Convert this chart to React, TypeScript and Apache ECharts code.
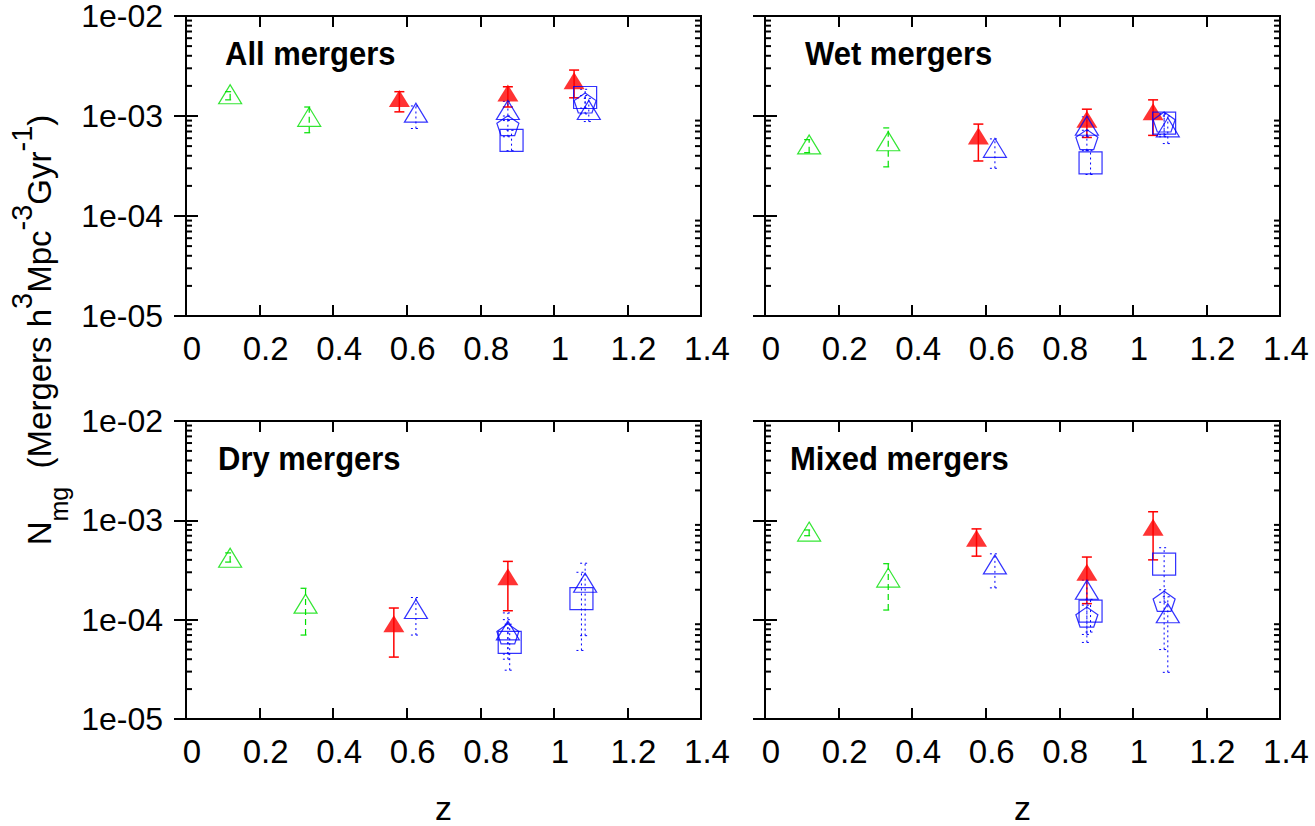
import React, { useEffect, useRef } from 'react';
import * as echarts from 'echarts';

// ---------------- data ----------------
const panelTitles = ['All mergers', 'Wet mergers', 'Dry mergers', 'Mixed mergers'];
const xAxisName = 'z';
const yTickLabels: Record<string, string> = { '-5': '1e-05', '-4': '1e-04', '-3': '1e-03', '-2': '1e-02' };
const yMinorTicks = [
  2e-5, 3e-5, 4e-5, 5e-5, 6e-5, 7e-5, 8e-5, 9e-5,
  2e-4, 3e-4, 4e-4, 5e-4, 6e-4, 7e-4, 8e-4, 9e-4,
  2e-3, 3e-3, 4e-3, 5e-3, 6e-3, 7e-3, 8e-3, 9e-3,
];

// rows: [z, N_mg, lower error end, upper error end]
const allGreen = [[0.12, 1.65e-3, 1.45e-3, 1.75e-3], [0.335, 0.98e-3, 0.68e-3, 1.23e-3]];
const allRed = [[0.58, 1.5e-3, 1.1e-3, 1.75e-3], [0.875, 1.7e-3, 1.23e-3, 1.96e-3], [1.055, 2.25e-3, 1.52e-3, 2.88e-3]];
const allBlueTri = [[0.625, 1.08e-3, 0.75e-3, 1.26e-3], [0.875, 1.15e-3, 0.9e-3, 1.4e-3], [1.095, 1.15e-3, 0.88e-3, 1.5e-3]];
const allBluePent = [[0.875, 0.8e-3, 0.62e-3, 1.0e-3], [1.085, 1.35e-3, 1.05e-3, 1.6e-3]];
const allBlueSq = [[0.885, 0.57e-3, 0.45e-3, 0.72e-3], [1.085, 1.53e-3, 1.2e-3, 1.85e-3]];

const wetGreen = [[0.12, 0.52e-3, 0.43e-3, 0.58e-3], [0.335, 0.56e-3, 0.31e-3, 0.76e-3]];
const wetRed = [[0.58, 0.63e-3, 0.355e-3, 0.83e-3], [0.875, 0.93e-3, 0.61e-3, 1.17e-3], [1.055, 1.1e-3, 0.64e-3, 1.45e-3]];
const wetBlueTri = [[0.625, 0.48e-3, 0.3e-3, 0.59e-3], [0.875, 0.8e-3, 0.62e-3, 0.98e-3], [1.095, 0.77e-3, 0.53e-3, 1.0e-3]];
const wetBluePent = [[0.875, 0.58e-3, 0.45e-3, 0.72e-3], [1.085, 0.87e-3, 0.65e-3, 1.05e-3]];
const wetBlueSq = [[0.885, 0.34e-3, 0.26e-3, 0.45e-3], [1.085, 0.85e-3, 0.62e-3, 1.05e-3]];

const dryGreen = [[0.12, 0.42e-3, 0.38e-3, 0.47e-3], [0.325, 0.145e-3, 0.07e-3, 0.207e-3]];
const dryRed = [[0.565, 0.091e-3, 0.042e-3, 0.131e-3], [0.875, 0.27e-3, 0.123e-3, 0.386e-3]];
const dryBlueTri = [[0.625, 0.128e-3, 0.07e-3, 0.167e-3], [0.875, 0.078e-3, 0.045e-3, 0.117e-3], [1.085, 0.235e-3, 0.069e-3, 0.37e-3]];
const dryBluePent = [[0.875, 0.072e-3, 0.04e-3, 0.1e-3]];
const dryBlueSq = [[0.88, 0.059e-3, 0.031e-3, 0.09e-3], [1.075, 0.163e-3, 0.049e-3, 0.3e-3]];

const mixGreen = [[0.12, 0.77e-3, 0.7e-3, 0.8e-3], [0.335, 0.265e-3, 0.125e-3, 0.366e-3]];
const mixRed = [[0.575, 0.66e-3, 0.436e-3, 0.82e-3], [0.875, 0.3e-3, 0.145e-3, 0.427e-3], [1.055, 0.85e-3, 0.4e-3, 1.22e-3]];
const mixBlueTri = [[0.625, 0.36e-3, 0.209e-3, 0.46e-3], [0.875, 0.2e-3, 0.071e-3, 0.25e-3], [1.095, 0.116e-3, 0.0295e-3, 0.17e-3]];
const mixBluePent = [[0.875, 0.106e-3, 0.059e-3, 0.14e-3], [1.085, 0.153e-3, 0.05e-3, 0.2e-3]];
const mixBlueSq = [[0.885, 0.122e-3, 0.075e-3, 0.16e-3], [1.085, 0.363e-3, 0.15e-3, 0.53e-3]];

const panelData = [
  { green: allGreen, red: allRed, blueTri: allBlueTri, bluePent: allBluePent, blueSq: allBlueSq },
  { green: wetGreen, red: wetRed, blueTri: wetBlueTri, bluePent: wetBluePent, blueSq: wetBlueSq },
  { green: dryGreen, red: dryRed, blueTri: dryBlueTri, bluePent: dryBluePent, blueSq: dryBlueSq },
  { green: mixGreen, red: mixRed, blueTri: mixBlueTri, bluePent: mixBluePent, blueSq: mixBlueSq },
];

// ---------------- styles / layout ----------------
const FONT = '"Liberation Sans", Arial, Helvetica, sans-serif';
const PENT = 'path://M0,-1L0.9511,-0.309L0.5878,0.809L-0.5878,0.809L-0.9511,-0.309Z';
const markStyles: Record<string, any> = {
  green: { color: '#00e000', symbol: 'triangle', size: [23, 19], filled: false, dash: [6, 4], lw: 1.2 },
  red: { color: '#ff0000', symbol: 'triangle', size: [21, 17], filled: true, dash: null, lw: 1.5 },
  blueTri: { color: '#0000ff', symbol: 'triangle', size: [23, 19], filled: false, dash: [2, 3], lw: 1 },
  bluePent: { color: '#0000ff', symbol: PENT, size: [22, 20], filled: false, dash: [2, 3], lw: 1 },
  blueSq: { color: '#0000ff', symbol: 'rect', size: [23, 22], filled: false, dash: [2, 3], lw: 1 },
};
const grids = [
  { left: 186, top: 16, width: 515, height: 300 },
  { left: 765, top: 16, width: 515, height: 300 },
  { left: 186, top: 421, width: 515, height: 300 },
  { left: 765, top: 421, width: 515, height: 300 },
];
const titlePos = [
  [225, 53], [805, 53], [218, 458], [790, 458],
];

function buildOption() {
  const xAxis: any[] = [];
  const yAxis: any[] = [];
  const series: any[] = [];
  grids.forEach((g, gi) => {
    const bottomRow = gi >= 2;
    xAxis.push({
      type: 'value', gridIndex: gi, position: 'bottom', min: 0, max: 1.4, interval: 0.2,
      axisLine: { show: false }, splitLine: { show: false },
      axisTick: { show: true, inside: true, length: 11, lineStyle: { color: '#000', width: 2 } },
      axisLabel: { show: true, color: '#000', fontSize: 33, lineHeight: 30, fontFamily: FONT, margin: 32, verticalAlign: 'middle', padding: [0, 0, 0, 12] },
      name: bottomRow ? xAxisName : '', nameLocation: 'middle', nameGap: 72,
      nameTextStyle: { color: '#000', fontSize: 34, fontFamily: FONT },
    });
    xAxis.push({
      type: 'value', gridIndex: gi, position: 'top', min: 0, max: 1.4, interval: 0.2,
      axisLine: { show: false }, splitLine: { show: false }, axisLabel: { show: false },
      axisTick: { show: true, inside: true, length: 11, lineStyle: { color: '#000', width: 2 } },
    });
    const yBase = {
      type: 'log', logBase: 10, gridIndex: gi, min: 1e-5, max: 1e-2,
      axisLine: { show: false }, splitLine: { show: false },
      axisTick: { show: true, inside: true, length: 12, lineStyle: { color: '#000', width: 2 } },
    };
    yAxis.push({
      ...yBase, position: 'left',
      axisLabel: {
        show: gi % 2 === 0, color: '#000', fontSize: 32, lineHeight: 22, fontFamily: FONT, margin: 23,
        padding: [4, 0, 0, 0],
        formatter: (v: number) => yTickLabels[String(Math.round(Math.log10(v)))] ?? '',
      },
    });
    yAxis.push({ ...yBase, position: 'right', axisLabel: { show: false } });

    // minor ticks (2..9 per decade) on both sides
    series.push({
      type: 'custom', xAxisIndex: gi * 2, yAxisIndex: gi * 2, silent: true, z: 1,
      data: yMinorTicks.map((v) => [0, v]), encode: { x: 0, y: 1 },
      renderItem: (_p: any, api: any) => {
        const v = api.value(1);
        const l = api.coord([0, v]);
        const r = api.coord([1.4, v]);
        const st = { stroke: '#000', lineWidth: 2 };
        return {
          type: 'group', children: [
            { type: 'line', shape: { x1: l[0], y1: l[1], x2: l[0] + 6, y2: l[1] }, style: st },
            { type: 'line', shape: { x1: r[0] - 6, y1: r[1], x2: r[0], y2: r[1] }, style: st },
          ],
        };
      },
    });

    const pd: any = panelData[gi];
    ['green', 'red', 'blueTri', 'bluePent', 'blueSq'].forEach((key) => {
      const s = markStyles[key];
      const rows = pd[key];
      series.push({
        type: 'custom', xAxisIndex: gi * 2, yAxisIndex: gi * 2, silent: true, z: 2,
        data: rows, encode: { x: 0, y: 1 },
        renderItem: (_p: any, api: any) => {
          const x = api.value(0);
          const lo = api.coord([x, api.value(2)]);
          const hi = api.coord([x, api.value(3)]);
          const cw = 5;
          const st: any = { stroke: s.color, lineWidth: s.lw, fill: null };
          if (s.dash) st.lineDash = s.dash;
          return {
            type: 'group', children: [
              { type: 'line', shape: { x1: lo[0], y1: lo[1], x2: hi[0], y2: hi[1] }, style: st },
              { type: 'line', shape: { x1: lo[0] - cw, y1: lo[1], x2: lo[0] + cw, y2: lo[1] }, style: st },
              { type: 'line', shape: { x1: hi[0] - cw, y1: hi[1], x2: hi[0] + cw, y2: hi[1] }, style: st },
            ],
          };
        },
      });
      series.push({
        type: 'scatter', xAxisIndex: gi * 2, yAxisIndex: gi * 2, silent: true, z: 3,
        data: rows.map((r: number[]) => [r[0], r[1]]),
        symbol: s.symbol, symbolSize: s.size,
        itemStyle: s.filled
          ? { color: s.color, borderWidth: 0 }
          : { color: 'rgba(0,0,0,0)', borderColor: s.color, borderWidth: 1.2 },
        emphasis: { disabled: true },
      });
    });
  });

  const graphic: any[] = panelTitles.map((t, i) => ({
    type: 'text', x: titlePos[i][0], y: titlePos[i][1], scaleY: 1.1, silent: true,
    style: { text: t, fontSize: 31, fontWeight: 'bold', fontFamily: FONT, fill: '#000', align: 'left', verticalAlign: 'middle' },
  }));
  graphic.push({
    type: 'text', x: 39, y: 330, rotation: Math.PI / 2, silent: true,
    style: {
      text: '{n|N}{sub|mg}{n|  (Mergers h}{sup|3}{n|Mpc}{sup|-3}{n|Gyr}{sup|-1}{n|)}',
      align: 'center', verticalAlign: 'middle', fill: '#000', fontFamily: FONT,
      rich: {
        n: { fontSize: 33, lineHeight: 64, verticalAlign: 'middle', fontFamily: FONT, fill: '#000' },
        sup: { fontSize: 29, lineHeight: 25, verticalAlign: 'top', fontFamily: FONT, fill: '#000' },
        sub: { fontSize: 25, lineHeight: 36, verticalAlign: 'bottom', fontFamily: FONT, fill: '#000' },
      },
    },
  });

  return {
    animation: false,
    backgroundColor: '#fff',
    grid: grids.map((g) => ({ ...g, show: true, borderColor: '#000', borderWidth: 2, backgroundColor: 'transparent' })),
    xAxis, yAxis, series, graphic,
  };
}

export default function App() {
  const ref = useRef<HTMLDivElement>(null);
  useEffect(() => {
    if (!ref.current) return;
    const chart = echarts.init(ref.current, undefined, { renderer: 'svg' });
    chart.setOption(buildOption() as any);
    return () => chart.dispose();
  }, []);
  return <div ref={ref} style={{ position: 'fixed', left: 0, top: 0, width: 1315, height: 826, background: '#fff' }} />;
}
